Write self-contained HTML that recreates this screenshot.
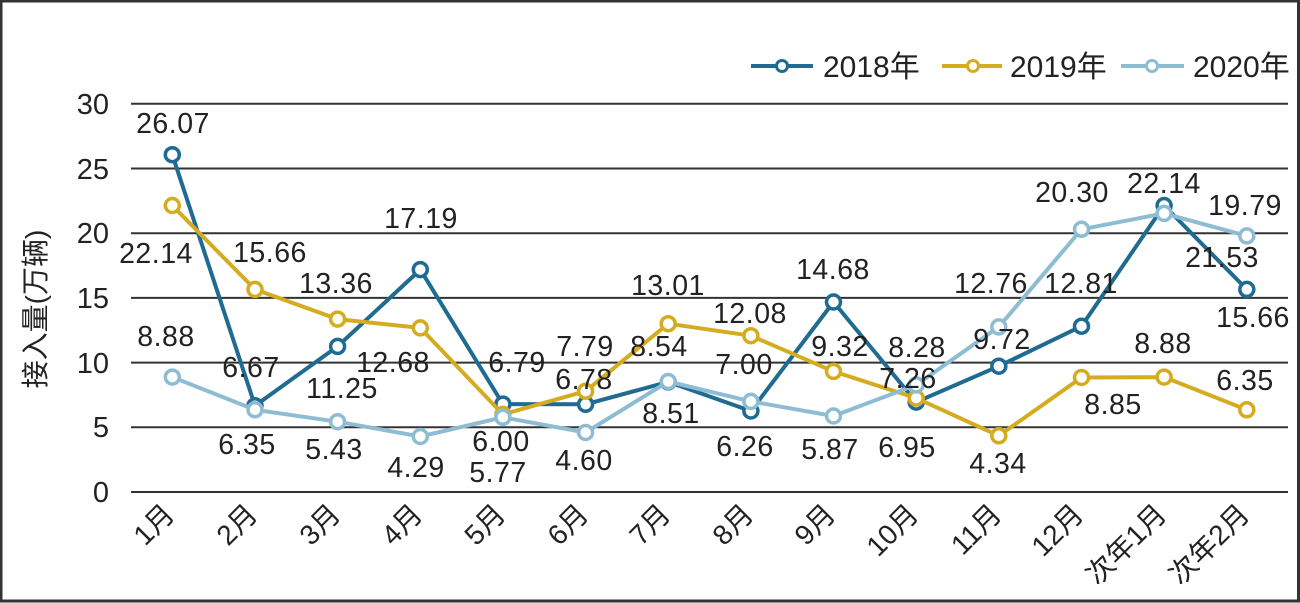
<!DOCTYPE html>
<html><head><meta charset="utf-8"><style>
html,body{margin:0;padding:0;background:#fff;}
svg{display:block;}
text{font-family:"Liberation Sans","Noto Sans CJK SC",sans-serif;fill:#222;}
</style></head><body>
<svg width="1300" height="603" viewBox="0 0 1300 603" xmlns="http://www.w3.org/2000/svg">
<rect x="1" y="1" width="1297.5" height="600" fill="#fff" stroke="#333" stroke-width="3"/>
<g stroke="#333" stroke-width="2">
<line x1="131" y1="103.8" x2="1288" y2="103.8"/>
<line x1="131" y1="168.5" x2="1288" y2="168.5"/>
<line x1="131" y1="233.2" x2="1288" y2="233.2"/>
<line x1="131" y1="297.9" x2="1288" y2="297.9"/>
<line x1="131" y1="362.6" x2="1288" y2="362.6"/>
<line x1="131" y1="427.3" x2="1288" y2="427.3"/>
<line x1="131" y1="492" x2="1288" y2="492"/>
</g>
<g font-size="29" text-anchor="end">
<text x="109" y="114">30</text>
<text x="109" y="179">25</text>
<text x="109" y="243">20</text>
<text x="109" y="308">15</text>
<text x="109" y="373">10</text>
<text x="109" y="437">5</text>
<text x="109" y="502">0</text>
</g>
<text x="45" y="309" font-size="28" text-anchor="middle" transform="rotate(-90 45 309)">接入量(万辆)</text>
<g font-size="28" text-anchor="end">
<text x="176" y="516" transform="rotate(-45 176 516)">1月</text>
<text x="259" y="516" transform="rotate(-45 259 516)">2月</text>
<text x="342" y="516" transform="rotate(-45 342 516)">3月</text>
<text x="424" y="516" transform="rotate(-45 424 516)">4月</text>
<text x="507" y="516" transform="rotate(-45 507 516)">5月</text>
<text x="590" y="516" transform="rotate(-45 590 516)">6月</text>
<text x="672" y="516" transform="rotate(-45 672 516)">7月</text>
<text x="755" y="516" transform="rotate(-45 755 516)">8月</text>
<text x="837" y="516" transform="rotate(-45 837 516)">9月</text>
<text x="920" y="516" transform="rotate(-45 920 516)">10月</text>
<text x="1003" y="516" transform="rotate(-45 1003 516)">11月</text>
<text x="1085" y="516" transform="rotate(-45 1085 516)">12月</text>
<text x="1168" y="516" transform="rotate(-45 1168 516)">次年1月</text>
<text x="1251" y="516" transform="rotate(-45 1251 516)">次年2月</text>
</g>
<!-- 2018 -->
<polyline fill="none" stroke="#1f6b91" stroke-width="4" stroke-linejoin="round" points="172.3,154.7 255,405.7 337.6,346.4 420.3,269.6 502.9,404.1 585.6,404.3 668.2,381.9 750.9,411 833.5,302 916.2,402.1 998.8,366.2 1081.5,326.2 1164.1,205.5 1246.8,289.4"/>
<g fill="#fff" stroke="#1f6b91" stroke-width="3.5">
<circle cx="172.3" cy="154.7" r="7"/><circle cx="255" cy="405.7" r="7"/><circle cx="337.6" cy="346.4" r="7"/><circle cx="420.3" cy="269.6" r="7"/><circle cx="502.9" cy="404.1" r="7"/><circle cx="585.6" cy="404.3" r="7"/><circle cx="668.2" cy="381.9" r="7"/><circle cx="750.9" cy="411" r="7"/><circle cx="833.5" cy="302" r="7"/><circle cx="916.2" cy="402.1" r="7"/><circle cx="998.8" cy="366.2" r="7"/><circle cx="1081.5" cy="326.2" r="7"/><circle cx="1164.1" cy="205.5" r="7"/><circle cx="1246.8" cy="289.4" r="7"/>
</g>
<!-- 2019 -->
<polyline fill="none" stroke="#d5ac1f" stroke-width="4" stroke-linejoin="round" points="172.3,205.5 255,289.4 337.6,319.1 420.3,327.9 502.9,414.4 585.6,391.2 668.2,323.7 750.9,335.7 833.5,371.4 916.2,398.1 998.8,435.8 1081.5,377.5 1164.1,377.1 1246.8,409.8"/>
<g fill="#fff" stroke="#d5ac1f" stroke-width="3.5">
<circle cx="172.3" cy="205.5" r="7"/><circle cx="255" cy="289.4" r="7"/><circle cx="337.6" cy="319.1" r="7"/><circle cx="420.3" cy="327.9" r="7"/><circle cx="502.9" cy="414.4" r="7"/><circle cx="585.6" cy="391.2" r="7"/><circle cx="668.2" cy="323.7" r="7"/><circle cx="750.9" cy="335.7" r="7"/><circle cx="833.5" cy="371.4" r="7"/><circle cx="916.2" cy="398.1" r="7"/><circle cx="998.8" cy="435.8" r="7"/><circle cx="1081.5" cy="377.5" r="7"/><circle cx="1164.1" cy="377.1" r="7"/><circle cx="1246.8" cy="409.8" r="7"/>
</g>
<!-- 2020 -->
<polyline fill="none" stroke="#8ebdd3" stroke-width="4" stroke-linejoin="round" points="172.3,377.1 255,409.8 337.6,421.7 420.3,436.5 502.9,417.3 585.6,432.5 668.2,381.5 750.9,401.4 833.5,416 916.2,384.9 998.8,326.9 1081.5,229.3 1164.1,213.4 1246.8,235.9"/>
<g fill="#fff" stroke="#8ebdd3" stroke-width="3.5">
<circle cx="172.3" cy="377.1" r="7"/><circle cx="255" cy="409.8" r="7"/><circle cx="337.6" cy="421.7" r="7"/><circle cx="420.3" cy="436.5" r="7"/><circle cx="502.9" cy="417.3" r="7"/><circle cx="585.6" cy="432.5" r="7"/><circle cx="668.2" cy="381.5" r="7"/><circle cx="750.9" cy="401.4" r="7"/><circle cx="833.5" cy="416" r="7"/><circle cx="916.2" cy="384.9" r="7"/><circle cx="998.8" cy="326.9" r="7"/><circle cx="1081.5" cy="229.3" r="7"/><circle cx="1164.1" cy="213.4" r="7"/><circle cx="1246.8" cy="235.9" r="7"/>
</g>
<!-- data labels -->
<g font-size="28.5" text-anchor="middle" letter-spacing="0.5">
<text x="173" y="133">26.07</text>
<text x="156" y="263">22.14</text>
<text x="270" y="262">15.66</text>
<text x="336" y="293">13.36</text>
<text x="421" y="228">17.19</text>
<text x="166" y="346">8.88</text>
<text x="251" y="377">6.67</text>
<text x="342" y="398">11.25</text>
<text x="393" y="372">12.68</text>
<text x="247" y="454">6.35</text>
<text x="334" y="459">5.43</text>
<text x="416" y="477">4.29</text>
<text x="517" y="372">6.79</text>
<text x="585" y="356">7.79</text>
<text x="584" y="389">6.78</text>
<text x="659" y="356">8.54</text>
<text x="668" y="295">13.01</text>
<text x="750" y="323">12.08</text>
<text x="744" y="374">7.00</text>
<text x="671" y="423">8.51</text>
<text x="833" y="279">14.68</text>
<text x="840" y="356">9.32</text>
<text x="745" y="456">6.26</text>
<text x="830" y="459">5.87</text>
<text x="501" y="451">6.00</text>
<text x="498" y="482">5.77</text>
<text x="584" y="470">4.60</text>
<text x="1072" y="202">20.30</text>
<text x="1164" y="193">22.14</text>
<text x="1245" y="215">19.79</text>
<text x="1222" y="267">21.53</text>
<text x="1253" y="327">15.66</text>
<text x="991" y="293">12.76</text>
<text x="1081" y="293">12.81</text>
<text x="917" y="357">8.28</text>
<text x="1002" y="349">9.72</text>
<text x="908" y="388">7.26</text>
<text x="1163" y="353">8.88</text>
<text x="1245" y="390">6.35</text>
<text x="1113" y="414">8.85</text>
<text x="907" y="457">6.95</text>
<text x="998" y="473">4.34</text>
</g>
<!-- legend -->
<g stroke-width="4">
<line x1="751" y1="66" x2="813" y2="66" stroke="#1f6b91"/>
<circle cx="782" cy="66" r="5.5" fill="#fff" stroke="#1f6b91" stroke-width="3"/>
<line x1="942" y1="66" x2="1002" y2="66" stroke="#d5ac1f"/>
<circle cx="973" cy="66" r="5.5" fill="#fff" stroke="#d5ac1f" stroke-width="3"/>
<line x1="1121" y1="66" x2="1184" y2="66" stroke="#8ebdd3"/>
<circle cx="1152" cy="66" r="5.5" fill="#fff" stroke="#8ebdd3" stroke-width="3"/>
</g>
<g font-size="30">
<text x="823" y="77">2018年</text>
<text x="1010" y="77">2019年</text>
<text x="1193" y="77">2020年</text>
</g>
</svg>
</body></html>
